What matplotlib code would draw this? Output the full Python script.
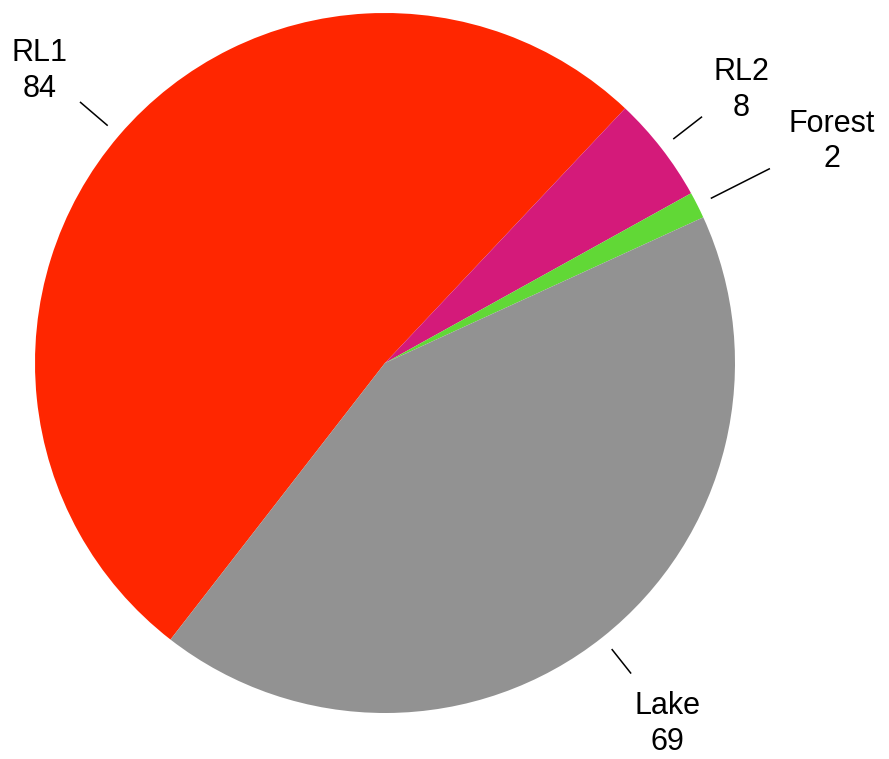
import numpy as np
import matplotlib
matplotlib.use('Agg')
import matplotlib.pyplot as plt

plt.rcParams['font.family'] = ['Liberation Sans', 'DejaVu Sans']

# Land cover counts
labels = ['RL1', 'RL2', 'Forest', 'Lake']
values = [84, 8, 2, 69]
colors = ['#FF2600', '#D41A7A', '#61D836', '#929292']

# leader line end radius and label radius per slice
line_end = [1.145, 1.145, 1.23, 1.13]
label_r = [1.30, 1.29, 1.43, 1.30]

fig = plt.figure(figsize=(8.89, 7.59), dpi=100)
ax = fig.add_axes([0, 0, 1, 1])

wedges, _ = ax.pie(values, colors=colors, startangle=232.2, counterclock=False,
                   radius=1.0, wedgeprops=dict(linewidth=0))

for w, lab, val, le, lr in zip(wedges, labels, values, line_end, label_r):
    ang = np.deg2rad((w.theta1 + w.theta2) / 2)
    c, s = np.cos(ang), np.sin(ang)
    ax.plot([1.045 * c, le * c], [1.045 * s, le * s], color='black', lw=1.1)
    ax.text(lr * c, lr * s - 0.012, f'{lab}\n{val}', ha='center', va='center',
            fontsize=22, linespacing=1.25)

ax.set_xlim(-385 / 350, (889 - 385) / 350)
ax.set_ylim(-(759 - 363) / 350, 363 / 350)
ax.set_aspect('auto')
ax.axis('off')

fig.savefig('out.png', dpi=100)
